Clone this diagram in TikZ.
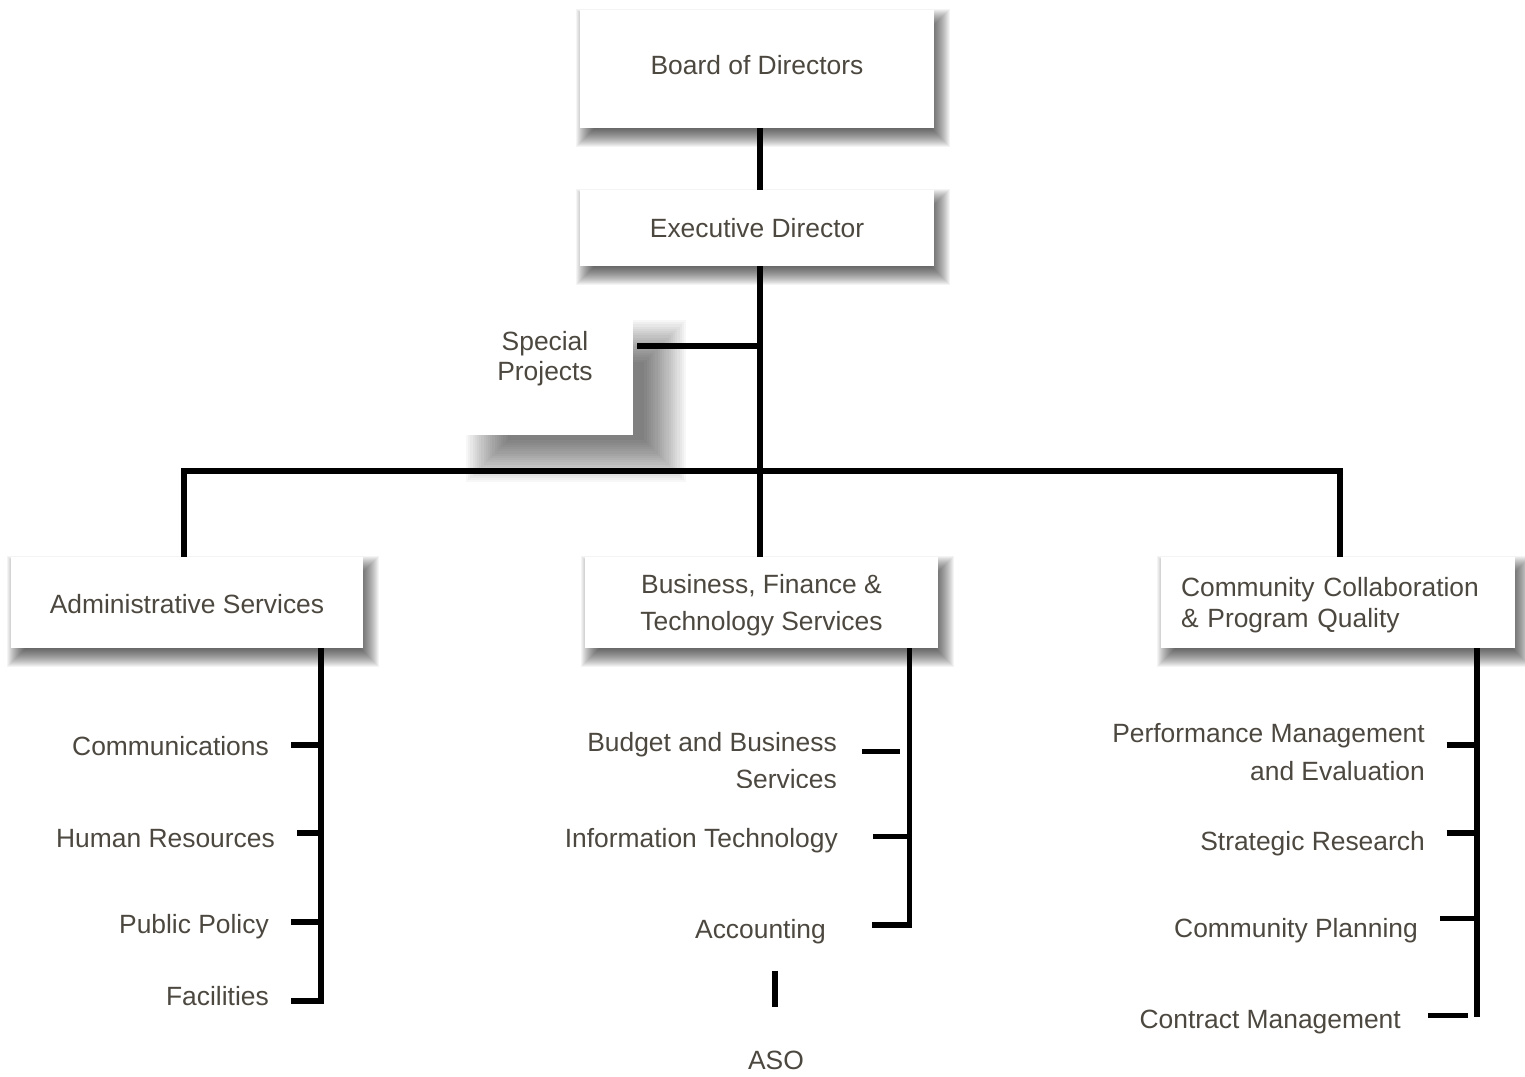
\documentclass[tikz,border=0pt]{standalone}
\usepackage{fontspec}
\setmainfont{Liberation Sans}
\usetikzlibrary{backgrounds}
\definecolor{txt}{RGB}{76,72,64}
\pgfdeclarelayer{lineslayer}
\pgfdeclarelayer{shadowlayer}
\pgfsetlayers{background,lineslayer,shadowlayer,main}
% soft shadow: #1 node, #2 dx, #3 dy, #4 radius, #5 opacity per step
\newcommand\mysoftshadow[5]{%
  \foreach \k in {1,...,20}{%
    \pgfmathsetmacro\ee{#4*(1-2*(\k-0.5)/20)}%
    \fill[black, opacity=#5]
      ([shift={(#2-\ee,#3-\ee)}]#1.north west) rectangle
      ([shift={(#2+\ee,#3+\ee)}]#1.south east);
  }%
}
\begin{document}
\begin{tikzpicture}[x=1pt,y=-1pt,
  box/.style={fill=white, draw=none, inner sep=0pt, align=center, text=txt,
    font=\fontsize{26.4}{38}\selectfont},
  plainbox/.style={fill=white, draw=none, inner sep=0pt},
  lbl/.style={inner sep=0pt, text=txt, font=\fontsize{26.4}{32}\selectfont, anchor=base east},
  lblc/.style={inner sep=0pt, text=txt, font=\fontsize{26.4}{32}\selectfont, anchor=base},
  conn/.style={line width=5.5pt}]

\useasboundingbox (0,0) rectangle (1525,1076);
\begin{pgfonlayer}{background}
  \fill[white] (0,0) rectangle (1525,1076);
\end{pgfonlayer}

% top boxes
\node[box, minimum width=354pt, minimum height=118pt] (board) at (757,69) {\raisebox{4pt}[\height][\depth]{Board of Directors}};
\node[box, minimum width=354pt, minimum height=76pt] (exec) at (757,228) {Executive Director};

% special projects
\node[plainbox, minimum width=178pt, minimum height=120pt] (special) at (544,375) {};
\node[inner sep=0pt, align=center, text=txt, font=\fontsize{26.4}{30}\selectfont] (specialtxt) at (545,359) {Special\\Projects};

% division boxes
\node[box, minimum width=352pt, minimum height=91pt] (admin) at (187,602.5) {\raisebox{-2pt}[\height][\depth]{Administrative Services}};
\node[box, minimum width=353pt, minimum height=91pt] (bft) at (761.5,602.5) {\raisebox{-2pt}[\height][\depth]{\begin{tabular}{@{}c@{}}Business, Finance \&\\[-0.5pt]Technology Services\end{tabular}}};
\node[box, minimum width=354pt, minimum height=91pt, align=left, text width=314pt, inner xsep=20pt,
      font=\fontsize{26.4}{31}\selectfont] (ccpq) at (1338,602.5) {\raisebox{-3.5pt}[\height][\depth]{\begin{tabular}{@{}l@{}}Community Collaboration\\\& Program Quality\end{tabular}}};

% admin sub-units
\node[lbl] (comm) at (269,755.5) {Communications};
\node[lbl] (hr) at (275,847.5) {Human Resources};
\node[lbl] (pp) at (269,933.5) {Public Policy};
\node[lbl] (fac) at (269,1005.5) {Facilities};

% business sub-units
\node[lbl] (bbs1) at (837,751.5) {Budget and Business};
\begin{scope}
  \clip (600,760) rectangle (860,787.5);
  \node[lbl] (bbs2) at (837,788.5) {Services};
\end{scope}
\node[lbl] (it) at (838,847.5) {Information Technology};
\node[lbl] (acc) at (826,938.5) {Accounting};
\node[lblc] (aso) at (776,1069.5) {ASO};

% community sub-units
\node[lbl] (pme1) at (1425,742.5) {Performance Management};
\node[lbl] (pme2) at (1425,780.5) {and Evaluation};
\node[lbl] (sr) at (1425,850.5) {Strategic Research};
\node[lbl] (cp) at (1418,937.5) {Community Planning};
\node[lbl] (cm) at (1401,1028.5) {Contract Management};

% coordinates for connectors
\coordinate (tj) at (760,471);
\coordinate (hl) at (184,471);
\coordinate (hr) at (1340,471);
\coordinate (spc) at (637,346);
\coordinate (va) at (321,1002);
\coordinate (a1) at (291,745);
\coordinate (a2) at (297,833);
\coordinate (a3) at (291,922);
\coordinate (a4) at (291,1001);
\coordinate (vb) at (909.5,925);
\coordinate (b1) at (862,751.5);
\coordinate (b1e) at (900,751.5);
\coordinate (b2) at (873,836.5);
\coordinate (b3) at (871.5,925);
\coordinate (q1) at (775,970.5);
\coordinate (q2) at (775,1006.5);
\coordinate (vc) at (1477,1017);
\coordinate (c1) at (1446.5,745);
\coordinate (c2) at (1446.5,833);
\coordinate (c3) at (1440,918.5);
\coordinate (c4) at (1428,1015.5);
\coordinate (c4e) at (1468,1015.5);

\begin{pgfonlayer}{lineslayer}
  \draw[conn] (board.south -| tj) -- (exec.north -| tj);
  \draw[conn] (exec.south -| tj) -- (bft.north -| tj);
  \draw[conn] (admin.north -| hl) -- (hl) -- (hr) -- (ccpq.north -| hr);
  \draw[conn] (spc) -- (spc -| tj);
  % admin
  \draw[conn] (admin.south -| va) -- (va |- a4) -- (a4);
  \draw[conn] (a1) -- (a1 -| va);
  \draw[conn] (a2) -- (a2 -| va);
  \draw[conn] (a3) -- (a3 -| va);
  % business
  \draw[conn] (bft.south -| vb) -- (vb |- b3) -- (b3);
  \draw[conn] (b1) -- (b1e);
  \draw[conn] (b2) -- (b2 -| vb);
  \draw[conn] (q1) -- (q2);
  % community
  \draw[conn] (ccpq.south -| vc) -- (vc);
  \draw[conn] (c1) -- (c1 -| vc);
  \draw[conn] (c2) -- (c2 -| vc);
  \draw[conn] (c3) -- (c3 -| vc);
  \draw[conn] (c4) -- (c4e);
\end{pgfonlayer}

\begin{pgfonlayer}{shadowlayer}
  \mysoftshadow{board}{6}{9}{10}{0.042}
  \mysoftshadow{exec}{6}{9}{10}{0.042}
  \mysoftshadow{admin}{6}{9}{10}{0.042}
  \mysoftshadow{bft}{6}{9}{10}{0.042}
  \mysoftshadow{ccpq}{6}{9}{10}{0.042}
  \mysoftshadow{special}{32}{26}{22}{0.032}
\end{pgfonlayer}
\end{tikzpicture}
\end{document}
